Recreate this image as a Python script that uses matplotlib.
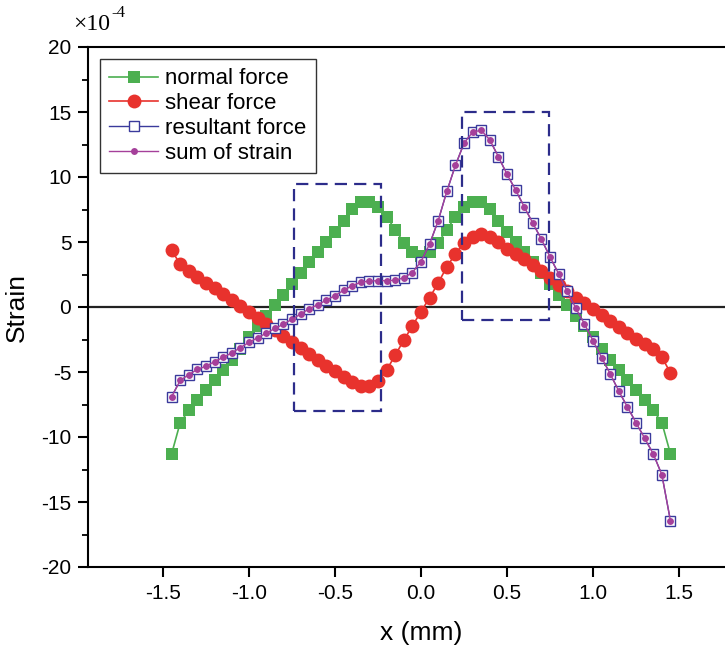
import matplotlib
matplotlib.use("Agg")
import matplotlib.pyplot as plt
from matplotlib.patches import Rectangle
from matplotlib.ticker import MultipleLocator, FixedLocator

plt.rcParams['font.family'] = ['Liberation Sans', 'DejaVu Sans']
plt.rcParams['axes.unicode_minus'] = False

# ---------------- data (strain in units of 1e-4) ----------------
x_mm = [-1.45, -1.40, -1.35, -1.30, -1.25, -1.20, -1.15, -1.10, -1.05, -1.00,
        -0.95, -0.90, -0.85, -0.80, -0.75, -0.70, -0.65, -0.60, -0.55, -0.50,
        -0.45, -0.40, -0.35, -0.30, -0.25, -0.20, -0.15, -0.10, -0.05, 0.00,
        0.05, 0.10, 0.15, 0.20, 0.25, 0.30, 0.35, 0.40, 0.45, 0.50,
        0.55, 0.60, 0.65, 0.70, 0.75, 0.80, 0.85, 0.90, 0.95, 1.00,
        1.05, 1.10, 1.15, 1.20, 1.25, 1.30, 1.35, 1.40, 1.45]

normal_force = [-11.3, -8.9, -7.95, -7.18, -6.4, -5.63, -4.86, -4.05, -3.2, -2.3,
                -1.48, -0.72, 0.12, 0.92, 1.8, 2.65, 3.45, 4.25, 5.03, 5.8,
                6.65, 7.55, 8.1, 8.1, 7.7, 6.95, 5.95, 4.95, 4.2, 3.95,
                4.2, 4.95, 5.95, 6.95, 7.7, 8.1, 8.1, 7.55, 6.65, 5.8,
                5.03, 4.25, 3.45, 2.65, 1.8, 0.92, 0.12, -0.72, -1.48, -2.3,
                -3.2, -4.05, -4.86, -5.63, -6.4, -7.18, -7.95, -8.9, -11.3]

shear_force = [4.35, 3.3, 2.78, 2.3, 1.87, 1.43, 0.99, 0.53, 0.09, -0.4,
               -0.84, -1.28, -1.74, -2.25, -2.7, -3.15, -3.6, -4.05, -4.5, -4.95,
               -5.4, -5.8, -6.1, -6.1, -5.7, -4.85, -3.7, -2.55, -1.45, -0.35,
               0.72, 1.85, 3.1, 4.08, 4.95, 5.42, 5.6, 5.35, 4.97, 4.5,
               4.1, 3.7, 3.25, 2.75, 2.25, 1.72, 1.2, 0.7, 0.27, -0.19,
               -0.65, -1.07, -1.52, -1.98, -2.43, -2.82, -3.25, -3.87, -5.06]

resultant_force = [-6.9, -5.65, -5.2, -4.8, -4.55, -4.2, -3.87, -3.53, -3.12, -2.72,
                   -2.36, -2.02, -1.65, -1.33, -0.93, -0.55, -0.13, 0.18, 0.53, 0.88,
                   1.28, 1.65, 1.9, 2.0, 2.02, 2.03, 2.05, 2.25, 2.65, 3.5,
                   4.85, 6.65, 8.9, 10.9, 12.6, 13.45, 13.6, 12.85, 11.55, 10.2,
                   9.0, 7.7, 6.45, 5.2, 3.85, 2.55, 1.2, -0.1, -1.3, -2.6,
                   -3.9, -5.15, -6.48, -7.7, -8.9, -10.1, -11.3, -12.9, -16.45]

sum_of_strain = [-6.9, -5.65, -5.2, -4.8, -4.55, -4.2, -3.87, -3.53, -3.12, -2.72,
                 -2.36, -2.02, -1.65, -1.33, -0.93, -0.55, -0.13, 0.18, 0.53, 0.88,
                 1.28, 1.65, 1.9, 2.0, 2.02, 2.03, 2.05, 2.25, 2.65, 3.5,
                 4.85, 6.65, 8.9, 10.9, 12.6, 13.45, 13.6, 12.85, 11.55, 10.2,
                 9.0, 7.7, 6.45, 5.2, 3.85, 2.55, 1.2, -0.1, -1.3, -2.6,
                 -3.9, -5.15, -6.48, -7.7, -8.9, -10.1, -11.3, -12.9, -16.45]

series_labels = ['normal force', 'shear force', 'resultant force', 'sum of strain']

# highlighted regions: (x0, x1, y0, y1)
box_left = (-0.74, -0.235, -8.0, 9.5)
box_right = (0.24, 0.745, -1.0, 15.0)

x_ticks = [-1.5, -1.0, -0.5, 0.0, 0.5, 1.0, 1.5]
y_ticks = [-20, -15, -10, -5, 0, 5, 10, 15, 20]

# ---------------- figure ----------------
W, H = 725, 648
fig = plt.figure(figsize=(W / 100, H / 100), dpi=100)
ax = fig.add_axes([88 / W, 1 - 567 / H, 1 - 88 / W, 520 / H])
ax.set_xlim(-1.936, 1.767)
ax.set_ylim(-20, 20)

green = '#4caf50'
red = '#e8322d'
navy = '#3a3a9c'
purple = '#a5409a'

ax.axhline(0, color='#222222', lw=1.6, zorder=1)

ax.plot(x_mm, normal_force, color=green, lw=1.2, marker='s', ms=8.6,
        mfc=green, mec=green, mew=0, label=series_labels[0], zorder=3)
ax.plot(x_mm, shear_force, color=red, lw=1.2, marker='o', ms=10,
        mfc=red, mec=red, mew=0, label=series_labels[1], zorder=4)
ax.plot(x_mm, resultant_force, color=navy, lw=1.0, marker='s', ms=7.8,
        mfc='white', mec=navy, mew=1.0, label=series_labels[2], zorder=5)
ax.plot(x_mm, sum_of_strain, color=purple, lw=1.0, marker='o', ms=5,
        mfc=purple, mec=purple, mew=0, label=series_labels[3], zorder=6)

for (x0, x1, y0, y1) in (box_left, box_right):
    ax.add_patch(Rectangle((x0, y0), x1 - x0, y1 - y0, fill=False,
                           edgecolor='#2c2c8a', lw=1.6,
                           linestyle=(0, (5.5, 3.2)), zorder=7))

# axes styling
ax.spines['right'].set_visible(False)
for s in ('left', 'bottom', 'top'):
    ax.spines[s].set_linewidth(1.5)
ax.xaxis.set_major_locator(FixedLocator(x_ticks))
ax.set_xticklabels(['%.1f' % v for v in x_ticks])
ax.yaxis.set_major_locator(FixedLocator(y_ticks))
ax.set_yticklabels(['%d' % v for v in y_ticks])
ax.yaxis.set_minor_locator(MultipleLocator(2.5))
ax.tick_params(axis='both', which='major', direction='out', length=7,
               width=1.5, labelsize=15, pad=5, top=False, right=False)
ax.tick_params(axis='y', which='minor', direction='out', length=4, width=1.3)
ax.tick_params(axis='x', which='minor', bottom=False)

fig.text(17 / W, 1 - 307 / H, 'Strain', rotation=90, ha='center', va='center',
         fontsize=19)
fig.text(421 / W, 1 - 633 / H, 'x (mm)', ha='center', va='center', fontsize=19)

fig.text(73 / W, 1 - 25 / H, '\u00d710', ha='left', va='center', fontsize=17,
         family=['Liberation Serif', 'DejaVu Serif'])
fig.text(111 / W, 1 - 13 / H, '-4', ha='left', va='center', fontsize=12,
         family=['Liberation Serif', 'DejaVu Serif'])

leg = ax.legend(loc='upper left', bbox_to_anchor=(0.019, 0.977),
                borderaxespad=0, fontsize=16, frameon=True, fancybox=False,
                framealpha=1, edgecolor='#333333', handlelength=2.2,
                handletextpad=0.3, labelspacing=0.17, borderpad=0.42)
leg.get_frame().set_linewidth(1.0)

fig.savefig('out.png', dpi=100)
